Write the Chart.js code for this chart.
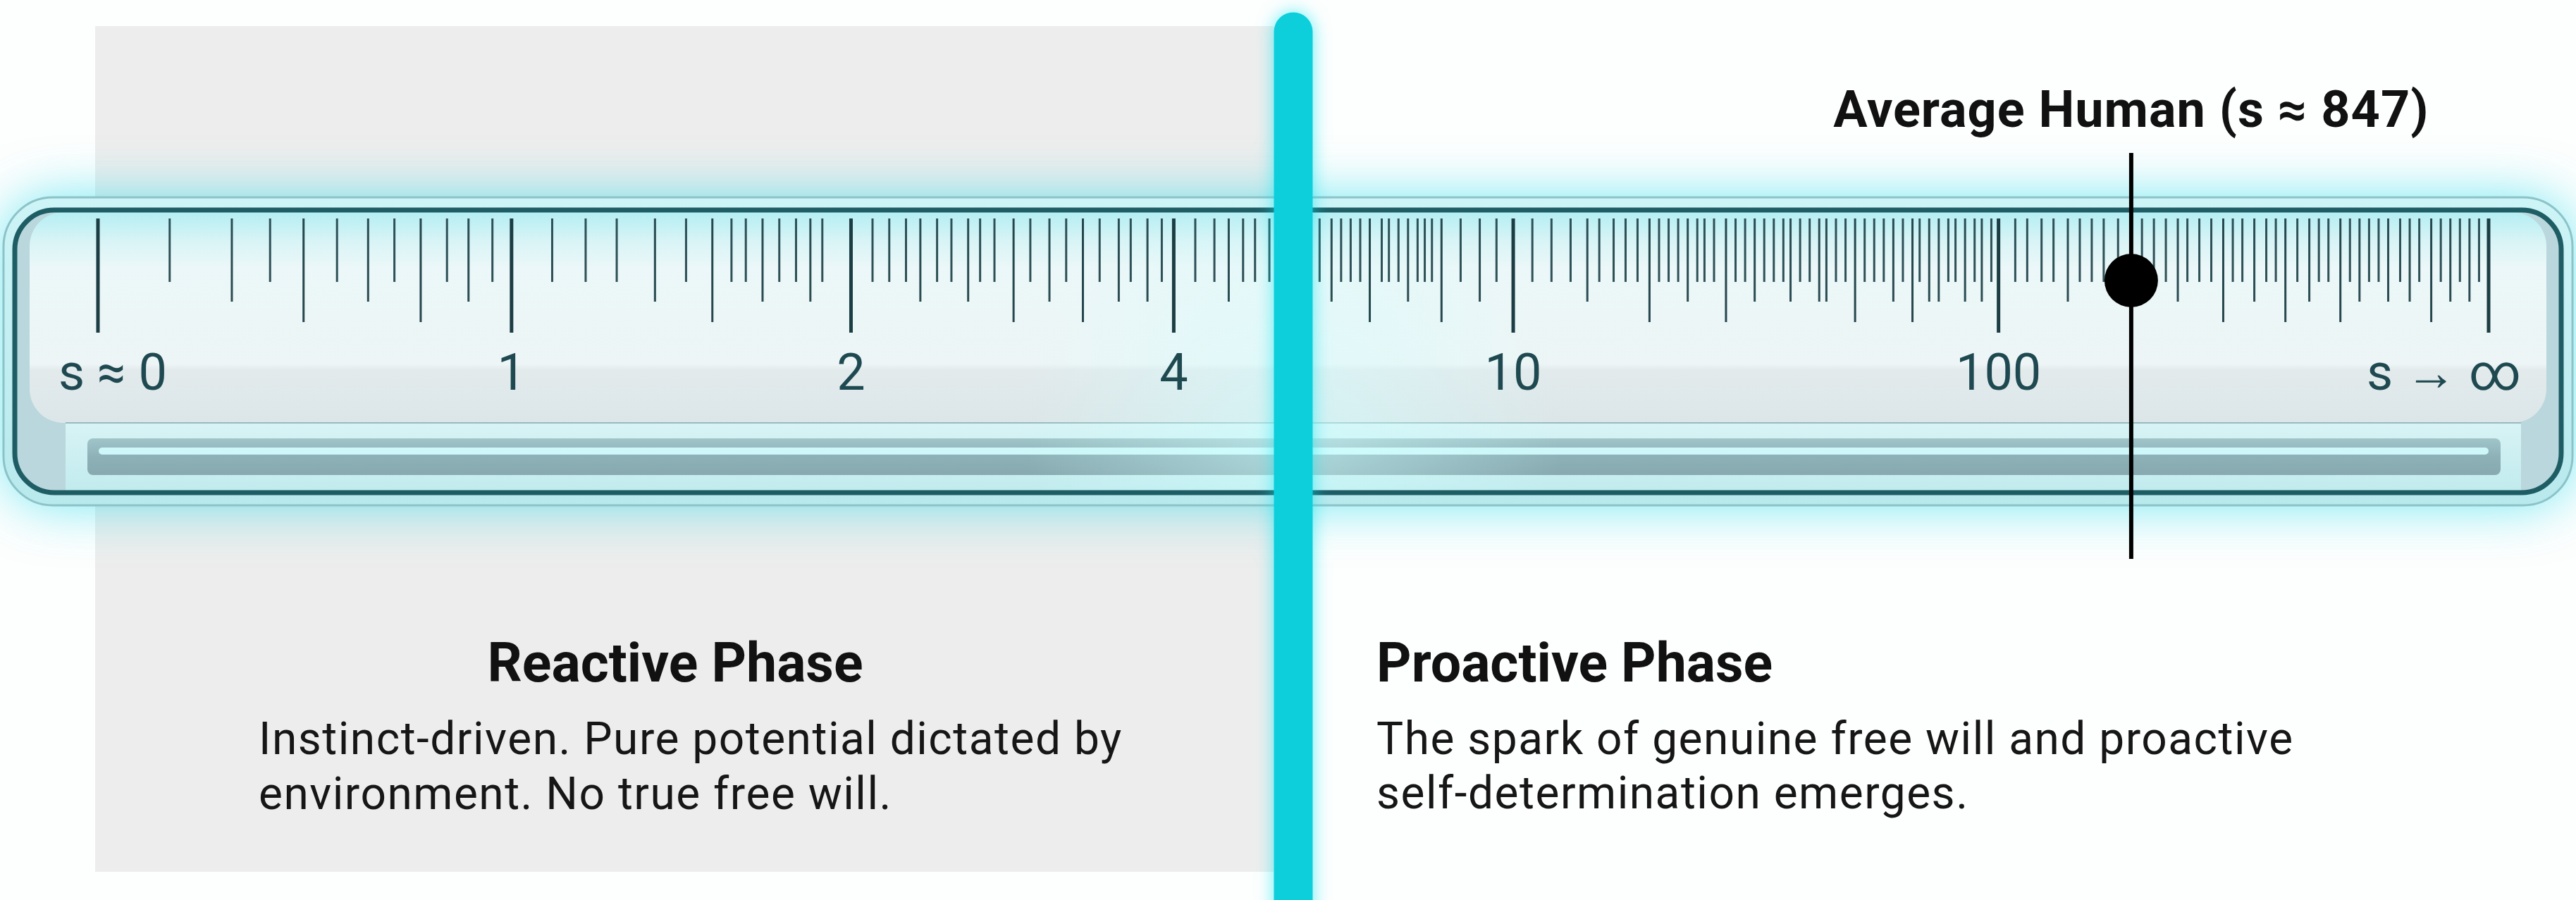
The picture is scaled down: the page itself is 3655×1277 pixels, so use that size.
<!DOCTYPE html>
<html>
<head>
<meta charset="utf-8">
<title>Free will ruler</title>
<script src="https://cdn.jsdelivr.net/npm/chart.js@4.4.1/dist/chart.umd.min.js"></script>
<style>
    html, body { margin: 0; padding: 0; background: #ffffff; overflow: hidden; }
    #wrap { position: relative; width: 3655px; height: 1277px; }
</style>
</head>
<body>
<div id="wrap"><canvas id="ruler"></canvas></div>
<script>
// ruler units: 0 = the "s ≈ 0" graduation, 100 = the "s → ∞" graduation
const majorLabels = ['s ≈ 0', '1', '2', '4', '10', '100', 's → ∞'];
const majorTicks = [0, 17.3, 31.5, 45.0, 59.2, 79.5, 100];
const longTicks = [8.6, 13.5, 25.7, 38.3, 41.2, 53.2, 56.2, 64.9, 68.1, 73.5, 75.9, 88.9, 91.5, 93.8, 97.6];
const mediumTicks = [5.6, 11.3, 15.5, 23.3, 27.8, 29.8, 34.4, 36.4, 39.8, 42.7, 43.9, 47.3, 51.6, 54.8, 57.8,
    62.3, 66.5, 69.3, 70.8, 72.0, 72.3, 75.1, 76.6, 77.0, 78.1, 78.8,
    82.4, 87.0, 90.2, 92.5, 94.6, 95.8, 96.7, 98.4, 99.2];
const shortTicks = [3.0, 7.2, 10.0, 12.4, 14.6, 16.5,
    19.0, 20.4, 21.7, 24.6, 26.5, 27.1, 28.5, 29.2, 30.3,
    32.4, 33.1, 33.8, 35.1, 35.7, 36.9, 37.5, 39.0, 40.5, 41.9, 43.2, 44.5,
    45.9, 46.7, 47.9, 48.4, 49.0, 51.1, 52.0, 52.4, 52.8, 53.7, 54.0, 54.4, 55.2, 55.5, 55.8, 57.0, 58.5,
    60.0, 60.8, 61.6, 62.8, 63.4, 63.9, 64.4, 65.3, 65.7, 66.1, 66.9, 67.2, 67.6, 68.5, 68.9, 69.7, 70.1,
    70.5, 71.2, 71.6, 72.7, 73.1, 73.9, 74.3, 74.7, 75.5, 76.2, 77.4, 77.7, 78.5, 79.2,
    80.2, 80.7, 81.3, 81.8, 82.9, 83.4, 83.9, 84.5, 85.5, 86.0, 86.5, 87.4, 87.9, 88.4, 89.3, 89.7,
    90.7, 91.1, 92.0, 92.9, 93.3, 94.2, 95.0, 95.4, 96.3, 97.1, 98.0, 98.8, 99.6];

const thresholdAt = 50.0;
const averageHuman = { label: 'Average Human (s ≈ 847)', s: 847, at: 85.05 };

const phaseTitles = ['Reactive Phase', 'Proactive Phase'];
const phaseNotes = [
    ['Instinct-driven. Pure potential dictated by', 'environment. No true free will.'],
    ['The spark of genuine free will and proactive', 'self-determination emerges.']
];

// layout (canvas pixels) and vertical units
const W = 3655, H = 1277;
const ZERO_PX = 139, SPAN_PX = 3392;
const Y_MAX = 127.7;
const TICK_TOP = 96.7;
const BOTTOM = { major: 80.5, long: 82.0, medium: 84.9, short: 87.7 };
const DOT_Y = 87.9;
const MARK_TOP = 106.0, MARK_BOTTOM = 48.4;
const CYAN_TOP = 123.2, CYAN_W = 55;
const LABEL_Y = 72.4, HUMAN_Y = 109.7;

function tickSegments(list, bottom) {
    const pts = [];
    list.forEach(function (u) {
        pts.push({ x: u, y: TICK_TOP }, { x: u, y: bottom }, { x: u, y: null });
    });
    return pts;
}

function tickSet(list, bottom, width, color) {
    return {
        type: 'scatter', showLine: true, spanGaps: false, data: tickSegments(list, bottom),
        borderColor: color, borderWidth: width, borderCapStyle: 'butt',
        pointRadius: 0, pointHitRadius: 0, order: 5, clip: false
    };
}

function roundRectPath(ctx, x, y, w, h, r) {
    ctx.beginPath();
    ctx.moveTo(x + r, y);
    ctx.arcTo(x + w, y, x + w, y + h, r);
    ctx.arcTo(x + w, y + h, x, y + h, r);
    ctx.arcTo(x, y + h, x, y, r);
    ctx.arcTo(x, y, x + w, y, r);
    ctx.closePath();
}

const rulerArt = {
    id: 'rulerArt',
    beforeDatasetsDraw(chart) {
        const ctx = chart.ctx;
        const xs = chart.scales.x;
        const cyanX = xs.getPixelForValue(thresholdAt);
        ctx.save();
        ctx.fillStyle = '#fdfefe';
        ctx.fillRect(0, 0, W, H);

        // reactive side panel
        ctx.fillStyle = '#ededed';
        ctx.fillRect(135, 37, cyanX - CYAN_W / 2 - 135, 1200);

        // soft glow around the ruler
        ctx.save();
        ctx.shadowColor = 'rgba(0, 215, 232, 0.55)';
        ctx.shadowBlur = 75;
        roundRectPath(ctx, 5, 280, 3645, 437, 70);
        ctx.fillStyle = '#c2eff3';
        ctx.fill();
        ctx.restore();

        // outer shell
        const sg = ctx.createLinearGradient(0, 280, 0, 717);
        sg.addColorStop(0, '#cdf4f7');
        sg.addColorStop(1, '#b8e9ed');
        roundRectPath(ctx, 5, 280, 3645, 437, 70);
        ctx.fillStyle = sg;
        ctx.fill();
        ctx.lineWidth = 3;
        ctx.strokeStyle = '#8cc3c8';
        ctx.stroke();

        // face
        ctx.save();
        roundRectPath(ctx, 24, 301, 3607, 395, 53);
        ctx.clip();
        ctx.fillStyle = '#b9d7dc';
        ctx.fillRect(0, 280, W, 440);

        const fg = ctx.createLinearGradient(0, 301, 0, 600);
        fg.addColorStop(0, '#b4eef3');
        fg.addColorStop(0.14, '#d9f4f6');
        fg.addColorStop(0.26, '#ebf7f8');
        fg.addColorStop(0.72, '#edf5f6');
        fg.addColorStop(0.75, '#e2eaec');
        fg.addColorStop(1, '#dce6e8');
        roundRectPath(ctx, 42, 301, 3571, 299, 48);
        ctx.fillStyle = fg;
        ctx.fill();

        const lg = ctx.createLinearGradient(0, 600, 0, 698);
        lg.addColorStop(0, '#d8f3f5');
        lg.addColorStop(1, '#c1ebee');
        ctx.fillStyle = lg;
        ctx.fillRect(93, 600, 3484, 98);
        ctx.fillStyle = '#97babe';
        ctx.fillRect(93, 599, 3484, 2);

        const bg = ctx.createLinearGradient(0, 622, 0, 674);
        bg.addColorStop(0, '#a0c5c9');
        bg.addColorStop(0.5, '#8db1b7');
        bg.addColorStop(1, '#87a9af');
        roundRectPath(ctx, 124, 622, 3424, 52, 8);
        ctx.fillStyle = bg;
        ctx.fill();
        roundRectPath(ctx, 140, 635, 3391, 10, 5);
        ctx.fillStyle = '#cdf7f9';
        ctx.fill();

        // light spill from the threshold line
        const rg = ctx.createRadialGradient(cyanX, 620, 10, cyanX, 620, 380);
        rg.addColorStop(0, 'rgba(205, 255, 255, 0.5)');
        rg.addColorStop(1, 'rgba(205, 255, 255, 0)');
        ctx.fillStyle = rg;
        ctx.fillRect(cyanX - 380, 301, 760, 400);
        ctx.restore();

        // dark rim
        roundRectPath(ctx, 21, 298, 3613, 401, 56);
        ctx.lineWidth = 7;
        ctx.strokeStyle = '#1f5d65';
        ctx.stroke();
        ctx.restore();
    },
    beforeDatasetDraw(chart, args) {
        const ds = chart.data.datasets[args.index];
        if (ds.glow) {
            chart.ctx.save();
            chart.ctx.shadowColor = ds.glow;
            chart.ctx.shadowBlur = 24;
        }
    },
    afterDatasetDraw(chart, args) {
        const ds = chart.data.datasets[args.index];
        if (ds.glow) {
            chart.ctx.restore();
        }
    },
    afterDatasetsDraw(chart) {
        const ctx = chart.ctx;
        const xs = chart.scales.x;
        const ys = chart.scales.y;
        ctx.save();
        ctx.textBaseline = 'alphabetic';

        // graduation labels
        ctx.font = '400 72px Roboto';
        ctx.fillStyle = '#1f4950';
        const last = majorLabels.length - 1;
        majorLabels.forEach(function (label, i) {
            let x = xs.getPixelForValue(majorTicks[i]);
            ctx.textAlign = 'center';
            if (i === 0) { ctx.textAlign = 'left'; x -= 56; }
            if (i === last) { ctx.textAlign = 'right'; x += 46; }
            ctx.fillText(label, x, ys.getPixelForValue(LABEL_Y));
        });

        // marker label
        ctx.font = '700 72px Roboto';
        ctx.fillStyle = '#111111';
        ctx.textAlign = 'center';
        ctx.letterSpacing = '1px';
        ctx.fillText(averageHuman.label, xs.getPixelForValue(averageHuman.at), ys.getPixelForValue(HUMAN_Y));

        // phase captions
        ctx.letterSpacing = '0px';
        ctx.font = '700 77px Roboto';
        ctx.textAlign = 'center';
        ctx.fillText(phaseTitles[0], 958, 967);
        ctx.textAlign = 'left';
        ctx.fillText(phaseTitles[1], 1953, 967);

        ctx.font = '400 64px Roboto';
        ctx.fillStyle = '#161616';
        ctx.letterSpacing = '1.5px';
        ctx.fillText(phaseNotes[0][0], 367, 1070);
        ctx.fillText(phaseNotes[0][1], 367, 1148);
        ctx.fillText(phaseNotes[1][0], 1953, 1070);
        ctx.fillText(phaseNotes[1][1], 1953, 1147);
        ctx.restore();
    }
};

new Chart(document.getElementById('ruler'), {
    type: 'scatter',
    data: {
        datasets: [
            {
                label: 'threshold', type: 'line', data: [{ x: thresholdAt, y: CYAN_TOP }, { x: thresholdAt, y: -10 }],
                borderColor: '#0dcfdb', borderWidth: CYAN_W, borderCapStyle: 'round', pointRadius: 0,
                glow: 'rgba(0, 230, 242, 0.6)', order: 1, clip: false
            },
            {
                label: averageHuman.label, data: [{ x: averageHuman.at, y: DOT_Y }],
                pointRadius: 38, pointBackgroundColor: '#000000', pointBorderWidth: 0, order: 2, clip: false
            },
            {
                label: 'marker', type: 'line', data: [{ x: averageHuman.at, y: MARK_TOP }, { x: averageHuman.at, y: MARK_BOTTOM }],
                borderColor: '#000000', borderWidth: 6, borderCapStyle: 'butt', pointRadius: 0, order: 3, clip: false
            },
            tickSet(majorTicks, BOTTOM.major, 5, '#1b3d43'),
            tickSet(longTicks, BOTTOM.long, 3, '#25474d'),
            tickSet(mediumTicks, BOTTOM.medium, 3, '#2a4c52'),
            tickSet(shortTicks, BOTTOM.short, 3, '#2e5057')
        ]
    },
    options: {
        responsive: true,
        maintainAspectRatio: false,
        animation: false,
        devicePixelRatio: 1,
        events: [],
        layout: { autoPadding: false, padding: 0 },
        plugins: { legend: { display: false }, tooltip: { enabled: false } },
        scales: {
            x: { type: 'linear', display: false, min: -ZERO_PX / SPAN_PX * 100, max: (W - ZERO_PX) / SPAN_PX * 100 },
            y: { type: 'linear', display: false, min: 0, max: Y_MAX }
        }
    },
    plugins: [rulerArt]
});
</script>
</body>
</html>
